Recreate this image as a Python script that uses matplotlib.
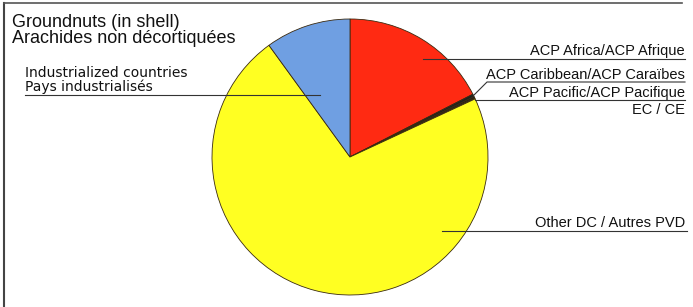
import matplotlib
import matplotlib.pyplot as plt
matplotlib.use('Agg')

# Shares of groundnut (in shell) supply, clockwise from 12 o'clock (%)
regions = ['ACP Africa', 'ACP Caribbean', 'ACP Pacific', 'EC', 'Other DC', 'Industrialized']
shares = [17.5, 0.3, 0.2, 0.1, 72.0, 10.0]
colors = ['#ff2a12', '#202020', '#202020', '#202020', '#ffff22', '#6f9fe2']

title_lines = ['Groundnuts (in shell)', 'Arachides non décortiquées']
right_labels = ['ACP Africa/ACP Afrique', 'ACP Caribbean/ACP Caraïbes',
                'ACP Pacific/ACP Pacifique', 'EC / CE', 'Other DC / Autres PVD']
left_labels = ['Industrialized countries', 'Pays industrialisés']

plt.rcParams['font.family'] = ['Liberation Sans', 'DejaVu Sans']

fig = plt.figure(figsize=(6.93, 3.07), dpi=100)
ax = fig.add_axes([0, 0, 1, 1])

# y axis inverted so coordinates read like the picture; startangle -90 = top
ax.pie(shares, colors=colors, startangle=-90, counterclock=True,
       center=(350, 157), radius=138,
       wedgeprops=dict(edgecolor='#3a2a10', linewidth=0.6))
ax.set_xlim(0, 693)
ax.set_ylim(307, 0)
ax.set_aspect('equal')
ax.axis('off')

# frame
ax.plot([4, 4], [307, 3], color='#444444', lw=1.5)
ax.plot([4, 682], [3, 3], color='#555555', lw=1.2)

# title
ax.text(12, 27, title_lines[0], fontsize=13, color='#111111')
ax.text(12, 43, title_lines[1], fontsize=13, color='#111111')

# left labels (wider face, as in the original)
ax.text(25, 77, left_labels[0], fontsize=10, family='DejaVu Sans', color='#111111')
ax.text(25, 91, left_labels[1], fontsize=10, family='DejaVu Sans', color='#111111')
ax.plot([25, 320], [95, 95], color='#333333', lw=0.8)

# right labels
label_y = [55, 79, 97, 114, 227]
for txt, y in zip(right_labels, label_y):
    ax.text(685, y, txt, fontsize=10.5, ha='right', color='#111111')

ax.plot([423, 685], [59, 59], color='#333333', lw=0.8)
ax.plot([473, 487, 685], [96, 82, 82], color='#333333', lw=0.8)
ax.plot([475, 685], [100, 100], color='#333333', lw=0.8)
ax.plot([442, 687], [231, 231], color='#333333', lw=0.8)

fig.savefig('out.png', dpi=100, facecolor='white')
